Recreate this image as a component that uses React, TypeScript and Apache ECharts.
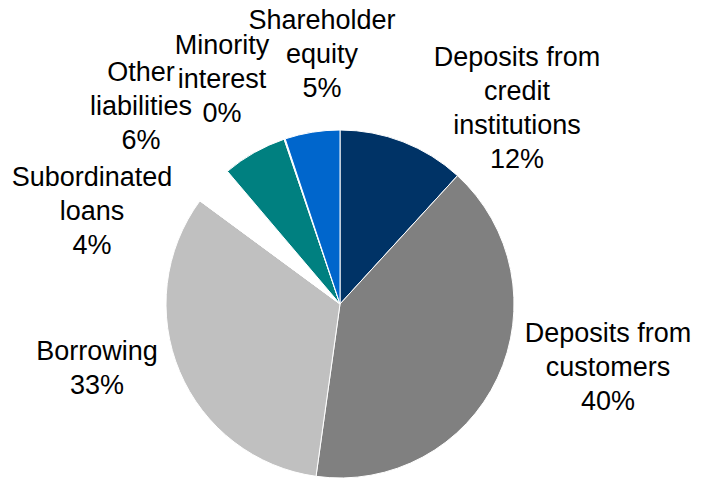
import React, { useEffect, useRef } from "react";
import * as echarts from "echarts";

const categories = [
  "Deposits from\ncredit\ninstitutions",
  "Deposits from\ncustomers",
  "Borrowing",
  "Subordinated\nloans",
  "Other\nliabilities",
  "Minority\ninterest",
  "Shareholder\nequity",
];
const values = [11.8, 40.4, 32.9, 3.7, 6.0, 0.1, 5.1];
const colors = ["#003366", "#808080", "#C0C0C0", "#FFFFFF", "#008080", "#FFFFFF", "#0066CC"];
// label block centres (layout only)
const labelPos: [number, number][] = [
  [517, 108],
  [608, 367],
  [97, 368],
  [92, 211],
  [141, 106],
  [222, 79],
  [322, 54],
];

export default function App() {
  const ref = useRef<HTMLDivElement>(null);
  useEffect(() => {
    if (!ref.current) return;
    const chart = echarts.init(ref.current, undefined, { renderer: "svg" });
    chart.setOption({
      animation: false,
      backgroundColor: "#FFFFFF",
      series: [
        {
          type: "pie",
          center: [340, 304],
          radius: 174,
          startAngle: 90,
          clockwise: true,
          avoidLabelOverlap: false,
          data: categories.map((name, i) => ({
            name,
            value: values[i],
            itemStyle: { color: colors[i] },
          })),
          itemStyle: { borderColor: "#FFFFFF", borderWidth: 1 },
          label: {
            show: true,
            position: "outside",
            fontFamily: "Liberation Sans, Arial, sans-serif",
            fontSize: 27,
            lineHeight: 34,
            color: "#000000",
            align: "center",
            formatter: (p: any) => `${p.name}\n${Math.round(p.percent)}%`,
          },
          labelLine: { show: false },
          labelLayout: (p: any) => ({
            x: labelPos[p.dataIndex][0],
            y: labelPos[p.dataIndex][1],
            align: "center",
            verticalAlign: "middle",
          }),
          emphasis: { disabled: true },
        },
      ],
    });
    return () => chart.dispose();
  }, []);
  return (
    <div
      ref={ref}
      style={{ position: "fixed", left: 0, top: 0, width: 704, height: 479 }}
    />
  );
}
